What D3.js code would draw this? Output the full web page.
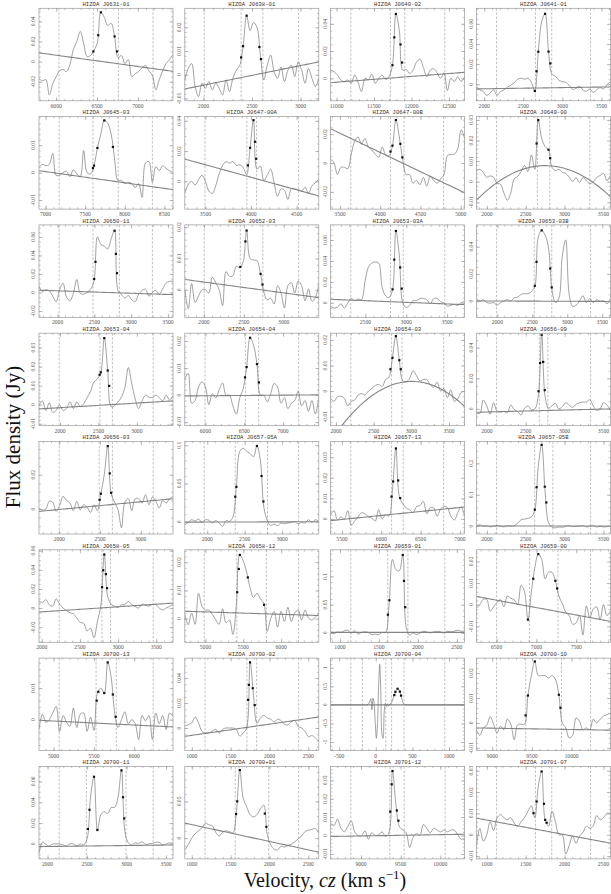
<!DOCTYPE html>
<html>
<head>
<meta charset="utf-8">
<script src="https://cdn.jsdelivr.net/npm/d3@7"></script>
<style>
  body { margin: 0; background: #fff; }
</style>
</head>
<body>
<div id="chart"></div>
<script>
// HI spectra of HIZOA galaxies: flux in mJy, velocity in km/s

var names = ["HIZOA J0631-01", "HIZOA J0638-01", "HIZOA J0640-02", "HIZOA J0641-01",
  "HIZOA J0645-03", "HIZOA J0647-00A", "HIZOA J0647-00B", "HIZOA J0649-00",
  "HIZOA J0650-11", "HIZOA J0652-03", "HIZOA J0653-03A", "HIZOA J0653-03B",
  "HIZOA J0653-04", "HIZOA J0654-04", "HIZOA J0654-03", "HIZOA J0656-09",
  "HIZOA J0656-03", "HIZOA J0657-05A", "HIZOA J0657-13", "HIZOA J0657-05B",
  "HIZOA J0658-05", "HIZOA J0658-12", "HIZOA J0659-01", "HIZOA J0659-00",
  "HIZOA J0700-13", "HIZOA J0700-02", "HIZOA J0700-04", "HIZOA J0700-10",
  "HIZOA J0700-11", "HIZOA J0700+01", "HIZOA J0701-12", "HIZOA J0701-07"];

var xDomains = [[5790, 7430], [1808, 3188], [10920, 12710], [1900, 3615],
  [6917, 8608], [3274, 4743], [3384, 5048], [1865, 3590],
  [1747, 3569], [1760, 3440], [2074, 3715], [1700, 3617],
  [1727, 3470], [5735, 7460], [1928, 3707], [1865, 3590],
  [1752, 3395], [1700, 3490], [5356, 7059], [1865, 3590],
  [1964, 3719], [4728, 6497], [880, 2600], [6246, 7929],
  [4820, 6480], [910, 2635], [-617, 1213], [8800, 10490],
  [1892, 3588], [910, 2635], [8617, 10306], [865, 2590]];

var yDomains = [[-39, 53], [-11, 28], [-16.5, 51.4], [-16.4, 75.4],
  [-13.3, 20.4], [-18.4, 42.8], [-31.9, 32.1], [-13.3, 31.6],
  [-27, 73], [-8.8, 20.7], [-14, 74.5], [-11.9, 56],
  [-11, 37.5], [-11.3, 22.9], [-13.5, 22.6], [-11, 49.5],
  [-14.6, 39.4], [-16, 104.8], [-7.3, 37.6], [-25.5, 270],
  [-35.8, 60.9], [-8.4, 24.4], [-16.5, 147], [-17.4, 25.4],
  [-9.8, 19.5], [-18.1, 56], [-1230, 1260], [-11.1, 26],
  [-14.4, 74.4], [-28.2, 97.7], [-12.7, 37.6], [-11.3, 32]];

var xTicks = [[6000, 6500, 7000], [2000, 2500, 3000], [11000, 11500, 12000, 12500], [2000, 2500, 3000, 3500],
  [7000, 7500, 8000, 8500], [3500, 4000, 4500], [3500, 4000, 4500, 5000], [2000, 2500, 3000, 3500],
  [2000, 2500, 3000, 3500], [2000, 2500, 3000], [2500, 3000, 3500], [2000, 2500, 3000, 3500],
  [2000, 2500, 3000], [6000, 6500, 7000], [2000, 2500, 3000, 3500], [2000, 2500, 3000, 3500],
  [2000, 2500, 3000], [2000, 2500, 3000], [5500, 6000, 6500, 7000], [2000, 2500, 3000, 3500],
  [2000, 2500, 3000, 3500], [5000, 5500, 6000], [1000, 1500, 2000, 2500], [6500, 7000, 7500],
  [5000, 5500, 6000], [1000, 1500, 2000, 2500], [-500, 0, 500, 1000], [9000, 9500, 10000],
  [2000, 2500, 3000, 3500], [1000, 1500, 2000, 2500], [9000, 9500, 10000], [1000, 1500, 2000, 2500]];

// y tick labels in mJy (printed in Jy)
var yTicks = [[-20, 0, 20, 40], [-10, 0, 10, 20], [0, 20, 40], [0, 20, 40, 60],
  [-10, 0, 10], [0, 20, 40], [-20, 0, 20], [-10, 0, 10, 20, 30],
  [-20, 0, 20, 40, 60], [0, 10, 20], [0, 20, 40, 60], [0, 20, 40],
  [-10, 0, 10, 20, 30], [-10, 0, 10, 20], [-10, 0, 10, 20], [0, 20, 40],
  [0, 20], [0, 50, 100], [0, 10, 20, 30], [0, 100, 200],
  [-20, 0, 20, 40, 60], [0, 10, 20], [0, 50, 100], [-10, 0, 10, 20],
  [0, 10], [0, 20, 40], [-1000, -500, 0, 500, 1000], [-10, 0, 10, 20],
  [0, 20, 40, 60], [0, 50], [-10, 0, 10, 20, 30], [-10, 0, 10, 20, 30]];

// velocity limits (dashed lines)
var dashes = [[6035, 6455, 6762, 7186], [2008, 2388, 2612, 2980], [11190, 11719, 11911, 12445], [2158, 2656, 2864, 3361],
  [7172, 7598, 7917, 8348], [3495, 3955, 4061, 4521], [3635, 4127, 4296, 4787], [2125, 2650, 2810, 3325],
  [2022, 2481, 2840, 3289], [2003, 2456, 2739, 3187], [2321, 2807, 2964, 3472], [1989, 2528, 2778, 3334],
  [1990, 2520, 2682, 3212], [5995, 6515, 6685, 7200], [2196, 2738, 2877, 3429], [2125, 2675, 2785, 3335],
  [2000, 2490, 2652, 3152], [1959, 2374, 2805, 3220], [5613, 6131, 6279, 6792], [2125, 2615, 2850, 3335],
  [2229, 2788, 2900, 3460], [4984, 5415, 5805, 6230], [1139, 1613, 1872, 2346], [6500, 6914, 7270, 7680],
  [5070, 5527, 5778, 6235], [1170, 1710, 1835, 2375], [-341, -182, 136, 216, 385, 942], [9055, 9422, 9873, 10240],
  [2148, 2492, 2993, 3337], [1170, 1560, 1990, 2375], [8872, 9364, 9544, 10061], [1125, 1625, 1835, 2335]];

// baseline fits: [velocity, mJy] points (2 = straight line, 3 = parabola)
var baselines = [[[5790, 8.7], [7430, -9.7]], [[1808, -6], [3188, 5.4]], [[10920, -3.2], [12710, 4.4]], [[1900, -4.6], [3615, -2.6]],
  [[6917, 0.7], [8608, -6.2]], [[3274, 14.7], [4743, -9.7]], [[3384, 23.7], [5048, -20.6]], [[1865, -9], [2750, 7.8], [3590, -7.3]],
  [[1747, 2.4], [3569, -2.4]], [[1760, 3.3], [3440, -2.5]], [[2074, 3.3], [3715, -1.8]], [[1700, 0.2], [3617, -0.2]],
  [[1727, -2.2], [3470, 2]], [[5735, -0.3], [7460, 0.1]], [[1928, -19.4], [3006, 3.8], [3707, -6]], [[1865, -2.2], [3590, 0]],
  [[1752, -1.4], [3395, 6]], [[1700, -0.5], [3490, 0]], [[5356, -0.8], [7059, 5.8]], [[1865, 0], [3590, 0]],
  [[1964, -4.2], [3719, 5.2]], [[4728, 2.6], [6497, 1.1]], [[880, 1], [2600, 1]], [[6246, 3.8], [7929, -7.7]],
  [[4820, -0.2], [6480, -2.3]], [[910, -6.7], [2635, 8.8]], [[-617, 0], [1213, 0]], [[8800, -2], [10490, -2.9]],
  [[1892, -2.6], [3588, -1]], [[910, 20.5], [2635, -19]], [[8617, -0.5], [10306, 0.7]], [[865, 7.8], [2590, -3.9]]];

// velocities of the measured points (peak, 50% and 20% levels)
var markers = [[6455, 6515, 6547, 6715, 6745], [2388, 2408, 2445, 2576, 2592], [11746, 11771, 11792, 11854, 11875], [2648, 2670, 2692, 2779, 2823, 2846],
  [7598, 7611, 7654, 7741, 7850], [3965, 3990, 4027, 4044, 4057], [4127, 4152, 4195, 4250, 4275], [2640, 2661, 2793, 2815],
  [2497, 2515, 2775, 2793, 2808], [2456, 2520, 2535, 2710, 2734], [2832, 2853, 2874, 2926, 2945], [2536, 2560, 2634, 2756, 2778],
  [2515, 2531, 2576, 2621, 2640], [6510, 6531, 6575, 6664, 6690], [2722, 2749, 2795, 2840, 2860], [2665, 2685, 2705, 2725, 2745],
  [2495, 2510, 2595, 2619, 2636], [2374, 2389, 2664, 2725, 2750], [6131, 6151, 6186, 6215, 6240], [2617, 2640, 2705, 2745, 2765],
  [2790, 2805, 2819, 2840, 2855], [5420, 5441, 5454, 5560, 5774], [1615, 1635, 1806, 1822, 1838], [6893, 6960, 7023, 7238, 7260],
  [5535, 5555, 5628, 5671, 5735, 5770], [1725, 1735, 1750, 1785, 1810], [253, 268, 298, 329, 345], [9420, 9450, 9537, 9840, 9860],
  [2511, 2531, 2588, 2631, 2936, 2955, 2970], [1570, 1585, 1618, 1940, 1960], [9368, 9387, 9397, 9452, 9472], [1600, 1640, 1705, 1735, 1750, 1770]];

// spectra: flux (mJy) at evenly spaced channels across each panel's velocity range
var spectra = [
  [-17,-19,-18,-33,-22,-15,-9,-8,-10,-3,12,20,30,18,5,6,11,19,49,44,36,38,25,4,6,-2,2,-15,-12,-10,-6,-4,-9,-14,-28,-18,-9,-2,2,7],
  [-2.2,2.6,4.7,-5,-9.2,-3.6,-5.7,-2.9,-6.4,-3.6,-5.7,-8.5,-2.2,-7.1,-1.5,1.9,4,12.4,24.9,18.6,22,20,8.2,-2.2,4,8.2,1.3,-1.5,3.3,-2.9,1.9,4,-0.8,5.4,1.9,-3.6,2.6,-1.5,-5,-1.5],
  [6.1,4.8,2.4,-1.2,-2.4,-1.2,-3.6,2.4,-3,-9.7,0,-1,3,-3.6,0,2.4,-1,1.2,9.7,47.3,35,6,6.5,3.6,6,12,14,8,1.2,6,7,4,0,4,-9,0,-2.4,1.2,-2.4,1.2],
  [-2.3,-5.6,-7.2,-11,-8.5,-5.6,-11,-7.2,-5.6,-3,-1,1.5,5,6,5,6,2,-7,32,62,70,32,10,8,4,2.6,2,-1,-5,-4,-2.3,-5.6,-7,-4.6,-8,-5.6,-3.3,-4.6,-0.6,2.6],
  [1.9,3,2.5,3,7,-1,-1,0,0.5,-1.5,1,-0.5,-1.5,8,0,-0.5,2.5,9,14,19,18,14,5,-3,-2.8,-4,-3.5,-4,-5.5,-4,-9,3.5,4,-3.5,2.2,0.7,2.5,1.5,0.7,0.1],
  [-8,-2,0,-2.5,1,4,0,-6.5,-8,-3,5,10.5,13,12,13,10.5,11,9,4.5,22,40.6,8,10,0.5,4,8,-1,-10,-5,-6,-12,-5,-5,-5.5,-6.5,-4,-8,-3,-1,1.5],
  [2.7,0,-8,-3,-3,-4,6,15,18,13,17,11,9,6,4,11,6,5,12,29.8,18,2,-8,-8,-14,-12,-15,-10,-16,-9,-12,-14,-11,-8,5,6,6,10,23,17],
  [5.4,6,4.5,2.2,2.8,2.2,-0.8,-1.2,-5.5,-9,-5.5,1.4,2.5,5,7.8,5,13,6,30,21,17,15.5,7,5.4,6,4.5,4,2.2,0,2,-0.5,2,0.5,-1,0,2,3,4,0.5,3],
  [7,1,3,1.7,-4,-10,3,10,-5,-9,-1,14,-1,-2,0,3.5,12,60,52,50,47,58,67,2,-2,-6,-3.5,-8,-10,-2,2,3.5,-4,0,2,-2,4,10,12,12],
  [0.3,-6,2,-4,-2,0,0,-1,4,2.3,0,-5,5.8,4.3,4.5,7.5,7,9,19,10,9.5,9.3,5.4,-0.7,-3.2,-2.7,-4.5,1.3,-1,-5.8,1.3,2.3,-1,2.8,1.3,-3.5,0.3,-3.7,-2.5,1.8],
  [-3.3,-5,-4.2,-1,-5,0,4.2,2,3.6,3,20,34,38,39,38,15,6.6,5,12,69,45,0,-4.5,-2.5,2,2,4,4.2,3,-1,4,4.2,1,0,-3.3,-2.4,-1.5,-2.4,0,1.2],
  [2,0,1,-1,-1.5,-1,-3,-1,0,1.2,0,2.5,3,5,5.5,5.5,7,11,47,52,48.5,39,8,-1,2,33,45,5,-3.7,-3,0,4,-1,2,-1,1,0,0.5,-2,2],
  [-0.5,2,-3,1,-4,-3,0,-3,-2,1.5,-2,1.5,-1,0.5,3.7,7,12,13.5,17,35,18,-1,-0.5,1.5,4,9,19.5,11,3,-2,2,5,4,3.7,5,3.7,2,5,2.5,4.5],
  [6,8,-3,-2,3,4.9,3,-3.5,0.5,-1,2,4.5,0,0,-4,-7,-1,2.4,10.4,21.3,18.5,11.5,0,0,-2.5,0.6,4.3,3,-3,-1,-5,-3,-2,1.5,-4,-2,-6,-2,-7,-0.6],
  [-2.8,-4,-2.2,-2,-2.8,-5.8,-4,-3.5,-1.5,-1,-1.5,0,1,2.2,2.6,1.8,4.5,5.5,13,21.5,12,4,3.6,5,8,6,4,4.5,4.5,2.5,1.5,3.5,0,1,-2.5,0.5,-4,-3,-0.5,0],
  [-2.8,-3,5.8,2,-3.5,4,-1.5,-2,-1.7,-2.5,2.5,-0.5,-1.7,-4,0.4,2,-0.5,0,8,48.8,8,0.4,2,3.5,0,1.5,4,2.5,1,3,4,4.5,4.5,6,2,-1,0,4,2.5,-0.6],
  [0.6,-0.6,0,4.5,4,-1.4,2,7.4,5,3.5,-1,4.5,-0.5,2.5,1,-2,2.5,-1,9,20,37,9,4,-0.5,-11,4,6,-1,6,6,3.5,8.3,2.5,7,4.5,0.6,5,3.5,6,7.4],
  [-4,-1,2.6,1,3.5,-1,2.6,2,-1.7,1.5,-1.7,-6,1.5,0.4,6,45,92,96,92,89,85,99,80,19,2,-5,-3,-5,-1.7,-2.6,-1.7,-1,0,-2.6,-1,-1.7,2.6,-1,2.6,0.4],
  [2,4,-0.5,1,0,4,-3,-1,1,3,2.5,1,0.5,-1,4.5,0,2,1.5,14,34.4,11,7.5,5.3,4.5,3,6,6.5,8.5,2.5,5.5,5.3,1.3,4.8,6,5.5,1.3,-0.5,3,6,1.3],
  [1,4,-1,1,-3,0,1,0,-3,1,0,1,9,20,22,25,29,52,190,260,110,10,-3,-6,-3,-4,-1,1,-2,-1,0,1,-3,-1,1,-3,-1,-3,-2,-1],
  [7,6,8.7,3.5,2,9.6,4,0,-2.5,-5,-6,-10.4,-15,-16,-24,-21,-31,-14,3,56,12,4,2,0.7,3.5,3.5,7,3.5,1.7,0,4,3,2,4,3.5,0,-2,0,1.7,3.5],
  [1.4,-2.2,2,-2,9,4.4,3,3,1.5,-0.4,-2,3.5,-1.5,-0.5,-5.6,4.8,22.6,20.5,16.5,11,7.5,9,7,5.5,-4.5,0,2.5,-3,2.6,-1,4,-1,2,3,-0.5,3,0.2,-0.5,0.5,2],
  [3,-1,2,1,4,5,0,4,-2,1,2,1,-3,-2,-3,1,1,48,130,112,110,138,10,-4,0,-3,0,3,2,0,2,3,2,0,3,2,3,5,3,4],
  [-1.5,0,2.5,2.5,-3,-1,1,2.3,-1,4,3,2.3,0,9,6,-7,6,17,23.4,21,12,15,15,11,4,0.5,-3.5,-5,-9,-8.5,-5,-14,-0.5,-6,-2,-1,-7,0,-5,-3],
  [-3.1,1.7,-0.8,0,2.1,4.2,-3.8,1.3,-0.8,-2.1,3.7,-2.5,1.7,2.1,-3.7,0.8,-3.4,8.4,10,8.4,18.2,13.4,2.5,-2.5,0,2.5,-1.3,0,-1.3,-6.3,1.3,-0.4,1.3,-6.3,2.1,-1.3,1.3,-3.1,2.1,1],
  [1.3,2.7,4,8.8,4,-2.7,-4,-4,-2.5,-1,-4,-1,0,0,0,-1.3,-6.5,-4,0,53,26,4,8,10,8,7,5,7,6,3,2.5,5,6,1.3,0,-2.7,-7,-6,-8,-10.7],
  [0,3,-2,2,0,-3,2,1,-2,3,0,-1,2,-2,1,0,-2,3,-1,0,2,-3,1,2,-1,0,3,-2,0,2,-1,1,5,-5,
   30,80,170,-130,180,20,-500,-900,-500,500,1090,300,-800,-900,-200,40,-40,30,-30,10,30,90,170,260,350,410,435,420,360,260,140,50,10,
   0,-2,2,1,-1,0,2,-2,1,0,-1,2,0,-2,1,1,-1,0,2,-1,0,1,-2,0,2,-1,1,0,-2,1,0,2,-1,0,1,-1,2,0,-2,1,0,-1,2,1,-1,0,1,-2,0,2,-1,0,1,0],
  [-2.7,-5,-2,-1,2.5,-0.5,-4,-1.3,-2.7,1.5,-0.5,-6.7,-0.7,-0.5,-0.5,11,19,24.7,19,19,19,18,19,17.5,11.3,0,-2,-6,-5,2,0.7,-2.7,-2,-2.7,1.5,0,1.5,2.7,3.3,4],
  [-9,1.5,-0.5,-2,0,0,0,-1,-2,0,0,-2,0,-1,5,45,64.7,13,28,31,29,35,35,45,71,12,1,-1,1,0.5,2,-0.5,0,0.5,1.5,1.5,-1,0,1,0.5],
  [-16,-9,0,6,10,14,20.5,18,17,8,3,8,10,9,7,35,93,54.5,43,32,29,32,40,45,5,-9,-15,-16,-11,-12,-10,-8,-5,-1,3,9,11,12,13,7],
  [6.7,5.5,9,4,2,4.9,8,2,0,0,2.5,-2,1.5,0,0.4,2,-0.5,1.5,35.3,17,5,3,1.5,-6.5,-1,1,0,6,4,1.5,4,3,2,3,2,3,3,0.5,-2,-1.5],
  [-5.5,3,-3,0,6,2,7.8,9.4,8,7,8,5.5,4,6,8,11,13.5,8,22.5,29.7,7,4,11,6,0,0,-9,-5,-0.5,-4,-0.5,1,4,3,4,9,7,8,10,10]
];

var W = 134, H = 92.5;
var left0 = 39, top0 = 8.3, colStep = 145.8, rowStep = 108.3;
var lineGrey = "#7a7a7a", frameGrey = "#999", textGrey = "#555";

var svg = d3.select("#chart")
  .append("svg")
    .attr("width", 611)
    .attr("height", 894)
    .style("background", "#fff");

function minorStep(major) {
  if (major === 20) return 5;
  if (major === 10) return 2;
  return major / 5;
}

function baseFn(b) {
  if (b.length === 2) {
    return function(v) { return b[0][1] + (b[1][1] - b[0][1]) * (v - b[0][0]) / (b[1][0] - b[0][0]); };
  }
  // quadratic through three points (Lagrange)
  return function(v) {
    var s = 0;
    for (var a = 0; a < 3; a++) {
      var t = b[a][1];
      for (var c = 0; c < 3; c++) if (c !== a) t *= (v - b[c][0]) / (b[a][0] - b[c][0]);
      s += t;
    }
    return s;
  };
}

names.forEach(function(name, i) {
  var col = i % 4, row = Math.floor(i / 4);
  var g = svg.append("g")
    .attr("transform", "translate(" + (left0 + col * colStep) + "," + (top0 + row * rowStep) + ")");

  var xd = xDomains[i], yd = yDomains[i];
  var x = d3.scaleLinear().domain(xd).range([0, W]);
  var y = d3.scaleLinear().domain(yd).range([H, 0]);

  g.append("clipPath").attr("id", "clip" + i)
    .append("rect").attr("width", W).attr("height", H);
  var inner = g.append("g").attr("clip-path", "url(#clip" + i + ")");

  // dashed velocity limits
  inner.selectAll(".dash")
    .data(dashes[i])
    .enter().append("line")
      .attr("x1", function(d) { return x(d); })
      .attr("x2", function(d) { return x(d); })
      .attr("y1", 0).attr("y2", H)
      .attr("stroke", frameGrey)
      .attr("stroke-width", 0.6)
      .attr("stroke-dasharray", "2.5,1.6");

  // baseline fit
  var bf = baseFn(baselines[i]);
  var bpts = d3.range(0, 61).map(function(k) { var v = xd[0] + k * (xd[1] - xd[0]) / 60; return [v, bf(v)]; });
  inner.append("path")
    .datum(bpts)
    .attr("fill", "none")
    .attr("stroke", "#858585")
    .attr("stroke-width", 1.1)
    .attr("d", d3.line().x(function(d) { return x(d[0]); }).y(function(d) { return y(d[1]); }));

  // spectrum
  var spec = spectra[i];
  var step = (xd[1] - xd[0]) / (spec.length - 1);
  var pts = spec.map(function(f, k) { return [xd[0] + k * step, f]; });
  inner.append("path")
    .datum(pts)
    .attr("fill", "none")
    .attr("stroke", lineGrey)
    .attr("stroke-width", 0.7)
    .attr("d", d3.line()
      .curve(d3.curveCatmullRom.alpha(0.5))
      .x(function(d) { return x(d[0]); })
      .y(function(d) { return y(d[1]); }));

  // measured points
  function fluxAt(v) {
    var t = (v - xd[0]) / step, k = Math.min(Math.floor(t), spec.length - 2), f = t - k;
    return spec[k] * (1 - f) + spec[k + 1] * f;
  }
  inner.selectAll(".mk")
    .data(markers[i])
    .enter().append("rect")
      .attr("x", function(d) { return x(d) - 1.1; })
      .attr("y", function(d) { return y(fluxAt(d)) - 1.1; })
      .attr("width", 2.2).attr("height", 2.2)
      .attr("fill", "#111");

  // frame
  g.append("rect")
    .attr("width", W).attr("height", H)
    .attr("fill", "none")
    .attr("stroke", frameGrey)
    .attr("stroke-width", 0.7);

  // ticks on all four sides, pointing inward
  var xMinor = d3.range(Math.ceil(xd[0] / 100) * 100, xd[1], 100);
  var yMaj = yTicks[i];
  var ym = minorStep(yMaj.length > 1 ? yMaj[1] - yMaj[0] : 10);
  var yMinor = d3.range(Math.ceil(yd[0] / ym) * ym, yd[1], ym);

  function tickAxis(axis, tr) {
    g.append("g")
      .attr("transform", tr)
      .attr("color", frameGrey)
      .call(axis)
      .call(function(s) { s.select(".domain").remove(); s.selectAll("line").attr("stroke-width", 0.6); });
  }
  tickAxis(d3.axisBottom(x).tickValues(xMinor).tickSize(-1.8).tickFormat(""), "translate(0," + H + ")");
  tickAxis(d3.axisTop(x).tickValues(xMinor).tickSize(-1.8).tickFormat(""), "translate(0,0)");
  tickAxis(d3.axisBottom(x).tickValues(xTicks[i]).tickSize(-3.6).tickFormat(""), "translate(0," + H + ")");
  tickAxis(d3.axisTop(x).tickValues(xTicks[i]).tickSize(-3.6).tickFormat(""), "translate(0,0)");
  tickAxis(d3.axisLeft(y).tickValues(yMinor).tickSize(-1.8).tickFormat(""), "translate(0,0)");
  tickAxis(d3.axisRight(y).tickValues(yMinor).tickSize(-1.8).tickFormat(""), "translate(" + W + ",0)");
  tickAxis(d3.axisLeft(y).tickValues(yMaj).tickSize(-3.6).tickFormat(""), "translate(0,0)");
  tickAxis(d3.axisRight(y).tickValues(yMaj).tickSize(-3.6).tickFormat(""), "translate(" + W + ",0)");

  // x tick labels
  g.selectAll(".xl")
    .data(xTicks[i])
    .enter().append("text")
      .attr("x", function(d) { return x(d); })
      .attr("y", H + 7)
      .attr("text-anchor", "middle")
      .attr("font-family", "Liberation Serif, serif")
      .attr("font-size", 5.6)
      .attr("fill", textGrey)
      .text(function(d) { return String(d); });

  // y tick labels, rotated
  g.selectAll(".yl")
    .data(yMaj)
    .enter().append("text")
      .attr("transform", function(d) { return "translate(-3.8," + y(d) + ") rotate(-90)"; })
      .attr("text-anchor", "middle")
      .attr("font-family", "Liberation Serif, serif")
      .attr("font-size", 5.6)
      .attr("fill", textGrey)
      .text(function(d) { return String(+(d / 1000).toFixed(3)); });

  // title
  g.append("text")
    .attr("x", W / 2)
    .attr("y", -2.2)
    .attr("text-anchor", "middle")
    .attr("font-family", "Liberation Mono, monospace")
    .attr("font-size", 5.6)
    .attr("fill", "#333")
    .text(name);
});

// axis titles
svg.append("text")
  .attr("transform", "translate(20,437) rotate(-90)")
  .attr("text-anchor", "middle")
  .attr("font-family", "Liberation Serif, serif")
  .attr("font-size", 21)
  .attr("fill", "#111")
  .text("Flux density (Jy)");

var vt = svg.append("text")
  .attr("x", 325)
  .attr("y", 887)
  .attr("text-anchor", "middle")
  .attr("font-family", "Liberation Serif, serif")
  .attr("font-size", 20)
  .attr("fill", "#111");
vt.append("tspan").text("Velocity, ");
vt.append("tspan").attr("font-style", "italic").text("cz");
vt.append("tspan").text(" (km s");
vt.append("tspan").attr("font-size", 13).attr("dy", -8).text("\u22121");
vt.append("tspan").attr("dy", 8).text(")");
</script>
</body>
</html>
